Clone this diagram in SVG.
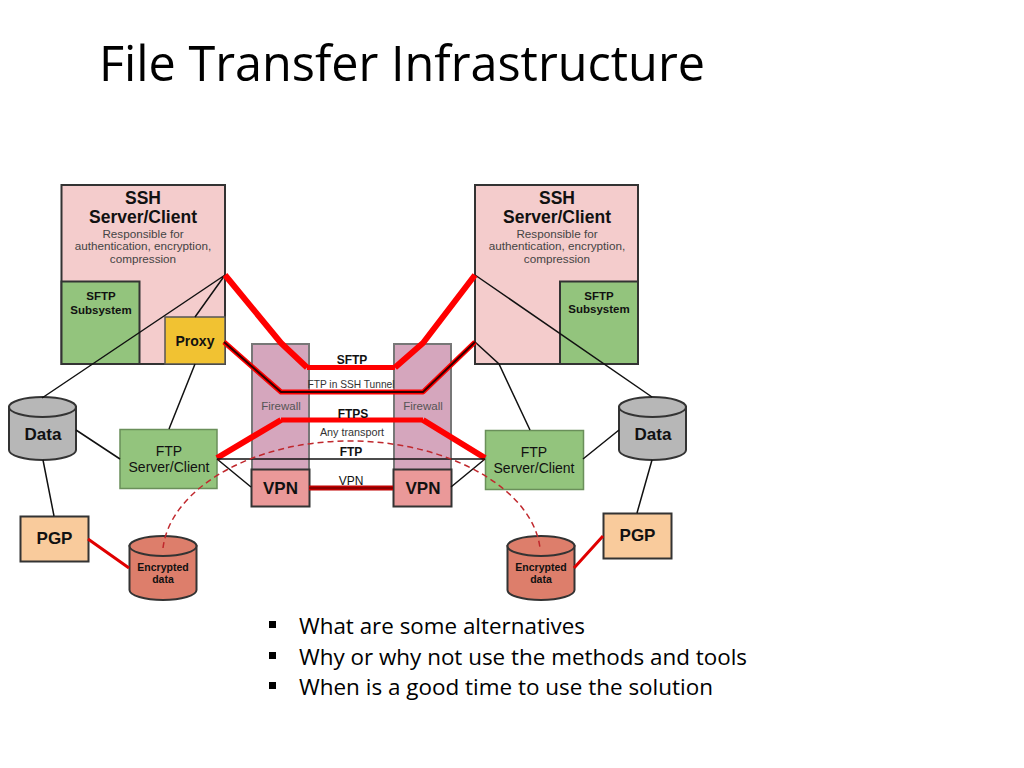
<svg xmlns="http://www.w3.org/2000/svg" width="1024" height="768" viewBox="0 0 1024 768">
<style>
text{font-family:"Liberation Sans",Arial,sans-serif;text-anchor:middle;fill:#111}
.slide{font-family:"Open Sans","Noto Sans",sans-serif;text-anchor:start;fill:#000}
.box{stroke:#333;stroke-width:2}
.pink{fill:#f4cccc}.green{fill:#93c47d}.fw{fill:#d5a6bd;stroke:#777;stroke-width:2}
.vpn{fill:#ea9999}.grey{fill:#b7b7b7}.enc{fill:#dd7e6b}.pgp{fill:#f9cb9c}
.h{font-size:17.500px;font-weight:bold}.d{font-size:11.700px;fill:#444}.fwt{font-size:11.500px;fill:#555}.s{font-size:11.500px;font-weight:bold}
.l{font-size:14px}.b{font-size:12px;font-weight:bold}.m{font-size:17px;font-weight:bold}.e{font-size:10.500px;font-weight:bold}
.thin{fill:none;stroke:#111;stroke-width:1.5}
.red{fill:none;stroke:#f00;stroke-width:5;stroke-linejoin:round}
.dash{fill:none;stroke:#c0282d;stroke-width:1.5;stroke-dasharray:6 4}
</style>
<text class="slide" x="99" y="81" font-size="49" textLength="606" lengthAdjust="spacingAndGlyphs">File Transfer Infrastructure</text>

<g id="ssh-left"><rect class="box pink" x="61.500" y="185" width="163.500" height="179"/>
<text class="h" x="143" y="204">SSH</text><text class="h" x="143" y="223">Server/Client</text>
<text class="d" x="143" y="237.500">Responsible for</text><text class="d" x="143" y="250">authentication, encryption,</text><text class="d" x="143" y="263">compression</text></g>
<g id="sftp-left"><rect class="box green" x="61.500" y="281.500" width="78" height="82.500"/>
<text class="s" x="101" y="300">SFTP</text><text class="s" x="101" y="314">Subsystem</text></g>
<g id="proxy"><rect x="165" y="317" width="60" height="47" fill="#f1c232" stroke="#555" stroke-width="1.500"/>
<text class="m" x="195" y="346" style="font-size:14px">Proxy</text></g>

<g id="ssh-right"><rect class="box pink" x="475" y="185" width="163" height="179"/>
<text class="h" x="557" y="204">SSH</text><text class="h" x="557" y="223">Server/Client</text>
<text class="d" x="557" y="237.500">Responsible for</text><text class="d" x="557" y="250">authentication, encryption,</text><text class="d" x="557" y="263">compression</text></g>
<g id="sftp-right"><rect class="box green" x="560" y="281.500" width="78" height="82.500"/>
<text class="s" x="599" y="300">SFTP</text><text class="s" x="599" y="313">Subsystem</text></g>

<g id="firewall-left"><rect class="fw" x="252" y="344" width="57" height="126"/><text class="fwt" x="281" y="410">Firewall</text></g>
<g id="firewall-right"><rect class="fw" x="394" y="344" width="57" height="126"/><text class="fwt" x="423" y="410">Firewall</text></g>

<g id="vpn-left"><rect class="box vpn" x="251.500" y="469.500" width="58" height="37"/><text class="m" x="280.500" y="494">VPN</text></g>
<g id="vpn-right"><rect class="box vpn" x="393.500" y="469.500" width="58" height="37"/><text class="m" x="423" y="494">VPN</text></g>

<g id="ftp-left"><rect x="120" y="429.500" width="97" height="59" fill="#93c47d" stroke="#6a8f5a" stroke-width="1.500"/>
<text class="l" x="169" y="456">FTP</text><text class="l" x="169" y="472">Server/Client</text></g>
<g id="ftp-right"><rect x="485.500" y="430.500" width="98" height="59" fill="#93c47d" stroke="#6a8f5a" stroke-width="1.500"/>
<text class="l" x="534" y="457">FTP</text><text class="l" x="534" y="473">Server/Client</text></g>

<g id="data-left"><path class="box grey" d="M9 407V450A33.500 10 0 0 0 76 450V407Z"/><ellipse class="box grey" cx="42.500" cy="407" rx="33.500" ry="10"/><text class="m" x="43" y="440">Data</text></g>
<g id="data-right"><path class="box grey" d="M619 407V450A33.500 10 0 0 0 686 450V407Z"/><ellipse class="box grey" cx="652.500" cy="407" rx="33.500" ry="10"/><text class="m" x="653" y="440">Data</text></g>

<g id="pgp-left"><rect class="box pgp" x="20.500" y="516.500" width="68" height="45"/><text class="m" x="54.500" y="544">PGP</text></g>
<g id="pgp-right"><rect class="box pgp" x="603.500" y="513.500" width="68" height="45"/><text class="m" x="637.500" y="541">PGP</text></g>

<g id="encrypted-left"><path class="box enc" d="M129.500 546V590A33.500 10 0 0 0 196.500 590V546Z"/><ellipse class="box enc" cx="163" cy="546" rx="33.500" ry="10"/>
<text class="e" x="163" y="571">Encrypted</text><text class="e" x="163" y="583">data</text></g>
<g id="encrypted-right"><path class="box enc" d="M507.500 546V590A33.500 10 0 0 0 574.500 590V546Z"/><ellipse class="box enc" cx="541" cy="546" rx="33.500" ry="10"/>
<text class="e" x="541" y="571">Encrypted</text><text class="e" x="541" y="583">data</text></g>

<g id="connectors">
<path class="thin" d="M225 275L42 398M225 275L195 317M195 364L169 429M76 430L120 459M43 460L54 516M217 459L251 487M485 459L451 487M475 275L652 397M475 342L499 364L530 430M583 459L619 430M652 460L637 513"/>
<path d="M88 539L129 568M603 536L574 568" fill="none" stroke="#e00000" stroke-width="3"/>
<path class="red" style="stroke-width:6" d="M225 275L281 343L307 367.500"/><path class="red" d="M307 367.500H395"/><path class="red" style="stroke-width:6" d="M395 367.500L423 343L475 275"/>
<path class="red" d="M224 342L281 392H423L475 342"/>
<path d="M224 342L281 392H423L475 342" fill="none" stroke="#300" stroke-width="2"/>
<path class="red" style="stroke-width:6" d="M217 458L281 420M423 420L485 458"/><path class="red" d="M281 420H423"/>
<path d="M217 459H485" fill="none" stroke="#111" stroke-width="1.500"/>
<path d="M309 488H393" fill="none" stroke="#c00000" stroke-width="5"/>
<path d="M309 488H393" fill="none" stroke="#7a0000" stroke-width="1.500"/>
<path class="dash" d="M163 548C170 490 250 441 350 441C450 441 533 490 540 548"/>
<text class="b" x="352" y="364">SFTP</text>
<text x="351" y="388" style="font-size:10.200px;fill:#333">FTP in SSH Tunnel</text>
<text class="b" x="353" y="418">FTPS</text>
<text x="352" y="436" style="font-size:10.800px;fill:#333">Any transport</text>
<text class="b" x="351" y="456">FTP</text>
<text x="351" y="485" style="font-size:12px">VPN</text>
</g>

<g id="bullets">
<rect x="269" y="621" width="7" height="7"/><rect x="269" y="652" width="7" height="7"/><rect x="269" y="682" width="7" height="7"/>
<text class="slide" x="299" y="634" font-size="22" textLength="286" lengthAdjust="spacingAndGlyphs">What are some alternatives</text>
<text class="slide" x="299" y="665" font-size="22" textLength="448" lengthAdjust="spacingAndGlyphs">Why or why not use the methods and tools</text>
<text class="slide" x="299" y="695" font-size="22" textLength="414" lengthAdjust="spacingAndGlyphs">When is a good time to use the solution</text>
</g>
</svg>
